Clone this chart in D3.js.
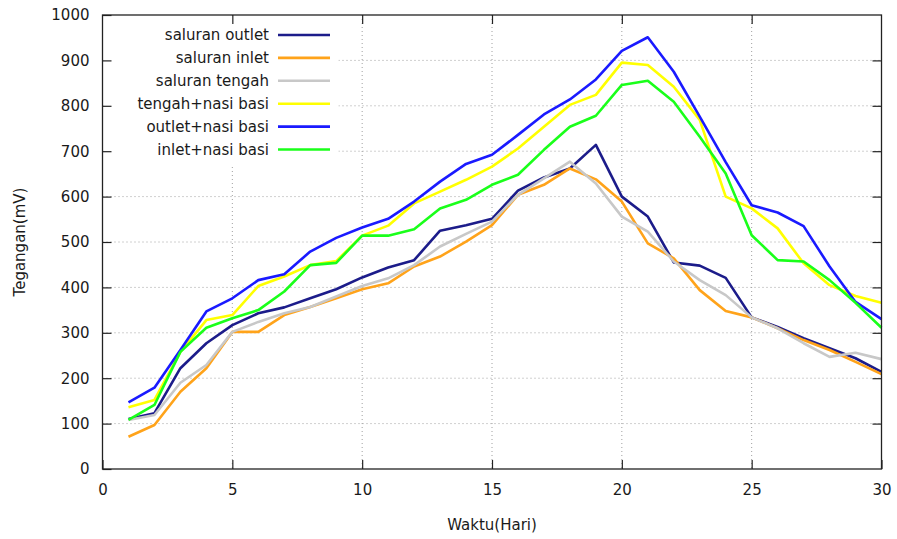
<!DOCTYPE html>
<html>
<head>
<meta charset="utf-8">
<script src="https://cdn.jsdelivr.net/npm/d3@7"></script>
<style>
  html, body { margin: 0; padding: 0; background: #fff; }
  svg { display: block; font-family: "DejaVu Sans", Verdana, sans-serif; }
</style>
</head>
<body>
<svg id="chart" width="897" height="539"></svg>
<script>
const days = d3.range(1, 31);
const xTicks = [0, 5, 10, 15, 20, 25, 30];
const yTicks = [0, 100, 200, 300, 400, 500, 600, 700, 800, 900, 1000];

const seriesNames = ["saluran outlet", "saluran inlet", "saluran tengah", "tengah+nasi basi", "outlet+nasi basi", "inlet+nasi basi"];
const seriesColors = ["#1c1c8a", "#ffa31a", "#c8c8c8", "#ffff00", "#1a1aff", "#1aff1a"];

const salurOutlet = [110,123,222,277,317,343,356,376,396,422,444,460,525,537,551,613,642,662,714,600,556,455,448,421,334,313,288,266,244,214];
const salurInlet  = [71,97,170,222,302,302,339,357,376,396,409,446,468,501,537,604,626,662,638,589,497,464,394,348,334,310,284,262,236,209];
const salurTengah = [108,119,190,229,302,324,343,357,380,403,420,449,490,518,545,604,640,677,629,556,523,457,416,383,334,310,277,247,256,242];
const tengahBasi  = [136,152,258,328,339,403,424,449,458,514,536,585,611,637,666,706,754,802,824,895,890,842,769,600,574,530,453,405,381,366];
const outletBasi  = [147,179,262,347,376,416,429,479,509,532,551,589,633,672,692,736,781,814,858,921,951,875,776,676,581,565,535,446,368,330];
const inletBasi   = [108,141,258,311,332,350,391,449,454,514,514,528,574,593,626,648,703,754,778,846,855,809,732,651,515,460,457,416,366,311];

const seriesValues = [salurOutlet, salurInlet, salurTengah, tengahBasi, outletBasi, inletBasi];

const L = 102.5, R = 881.5, T = 15, B = 469;
const FS = 15;
const svg = d3.select("#chart");
const x = d3.scaleLinear().domain([0, 30]).range([L, R]);
const y = d3.scaleLinear().domain([0, 1000]).range([B, T]);

// grid
const grid = svg.append("g");
grid.selectAll(".gx").data(xTicks.filter(d => d > 0 && d < 30)).join("line")
  .attr("x1", d => x(d)).attr("x2", d => x(d)).attr("y1", T).attr("y2", B)
  .attr("stroke", "#a0a0a0").attr("stroke-width", 1).attr("stroke-dasharray", "1,3");
grid.selectAll(".gy").data(yTicks.filter(d => d > 0 && d < 1000)).join("line")
  .attr("x1", L).attr("x2", R).attr("y1", d => y(d)).attr("y2", d => y(d))
  .attr("stroke", "#a0a0a0").attr("stroke-width", 1).attr("stroke-dasharray", "1,3");

// legend background (opaque key)
svg.append("rect").attr("x", L + 1).attr("y", T + 1).attr("width", 235).attr("height", 148).attr("fill", "#fff");

// lines
const line = d3.line().x((d, i) => x(days[i])).y(d => y(d));
seriesValues.forEach((vals, k) => {
  svg.append("path").datum(vals)
    .attr("d", line)
    .attr("fill", "none")
    .attr("stroke", seriesColors[k])
    .attr("stroke-width", 2.6)
    .attr("stroke-linejoin", "round");
});

// axes (gnuplot style with mirrored inward ticks)
const tl = 9;
const fmt = d3.format("d");
const ax = svg.append("g");
ax.append("g").attr("transform", `translate(0,${B})`)
  .call(d3.axisBottom(x).tickValues(xTicks).tickFormat(fmt).tickSizeInner(-tl).tickSizeOuter(0).tickPadding(15))
  .call(g => g.select(".domain").remove());
ax.append("g").attr("transform", `translate(0,${T})`)
  .call(d3.axisTop(x).tickValues(xTicks.slice(1, -1)).tickSizeInner(-tl).tickSizeOuter(0).tickFormat(""))
  .call(g => g.select(".domain").remove());
ax.append("g").attr("transform", `translate(${L},0)`)
  .call(d3.axisLeft(y).tickValues(yTicks).tickFormat(fmt).tickSizeInner(-tl).tickSizeOuter(0).tickPadding(13))
  .call(g => g.select(".domain").remove());
ax.append("g").attr("transform", `translate(${R},0)`)
  .call(d3.axisRight(y).tickValues(yTicks.slice(1, -1)).tickSizeInner(-tl).tickSizeOuter(0).tickFormat(""))
  .call(g => g.select(".domain").remove());
ax.selectAll(".tick line").attr("stroke", "#222").attr("stroke-width", 1.2);
ax.selectAll(".tick text").attr("font-size", FS).attr("fill", "#1a1a1a")
  .attr("font-family", "'DejaVu Sans', Verdana, sans-serif");

svg.append("rect").attr("x", L).attr("y", T).attr("width", R - L).attr("height", B - T)
  .attr("fill", "none").attr("stroke", "#222").attr("stroke-width", 1.3);

// axis titles
svg.append("text").attr("x", (L + R) / 2).attr("y", 530).attr("text-anchor", "middle")
  .attr("font-size", FS).attr("fill", "#1a1a1a").text("Waktu(Hari)");
svg.append("text").attr("transform", `translate(25,${(T + B) / 2}) rotate(-90)`)
  .attr("text-anchor", "middle").attr("font-size", FS).attr("fill", "#1a1a1a").text("Tegangan(mV)");

// legend
const leg = svg.append("g");
seriesNames.forEach((name, k) => {
  const yy = 35 + k * 22.9;
  leg.append("text").attr("x", 269).attr("y", yy).attr("dy", "0.35em")
    .attr("text-anchor", "end").attr("font-size", FS).attr("fill", "#1a1a1a").text(name);
  leg.append("line").attr("x1", 278).attr("x2", 330).attr("y1", yy).attr("y2", yy)
    .attr("stroke", seriesColors[k]).attr("stroke-width", 2.6);
});
</script>
</body>
</html>
